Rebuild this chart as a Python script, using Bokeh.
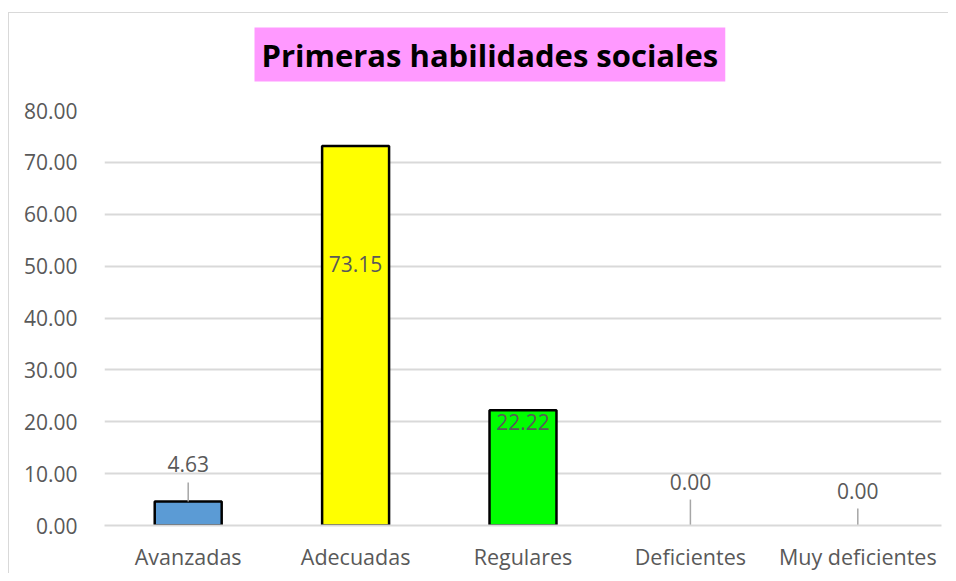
from bokeh.plotting import figure
from bokeh.layouts import column
from bokeh.models import ColumnDataSource, Range1d, FixedTicker, NumeralTickFormatter, Title
from bokeh.core.properties import value
from bokeh.embed import file_html
from bokeh.resources import INLINE

# ---- data ----
categories = ["Avanzadas", "Adecuadas", "Regulares", "Deficientes", "Muy deficientes"]
values = [4.63, 73.15, 22.22, 0.00, 0.00]
bar_colors = ["#5B9BD5", "#FFFF00", "#00FF00", None, None]
y_ticks = [0, 10, 20, 30, 40, 50, 60, 70, 80]
title_text = "Primeras habilidades sociales"

# label placement (pixel offsets of the value labels, style only)
label_offsets = [-37, 118, 12, -44, -35]
leader_px = [19, 0, 0, 26, 17]

FONT = "Open Sans"
GRAY = "#595959"
GRID = "#d9d9d9"

PX_PER_UNIT = 416 / 80.0

src = ColumnDataSource(dict(
    cat=categories,
    val=values,
    fill=bar_colors,
    line=["black" if v > 0 else None for v in values],
    lab=["%.2f" % v for v in values],
    yoff=label_offsets,
))

p = figure(
    x_range=categories, y_range=Range1d(0, 80),
    width=939, height=577,
    output_backend="svg", toolbar_location=None,
    min_border_left=95, min_border_right=7,
    min_border_top=97, min_border_bottom=47,
)
p.styles = {"margin-top": "-17px"}
p.x_range.range_padding = 0
p.outline_line_color = None
p.background_fill_color = "white"
p.border_fill_alpha = 0

p.title = Title(text=title_text, align="left", offset=150, standoff=58,
                text_font=FONT, text_font_style="bold", text_font_size="31px",
                text_color="black", background_fill_color="#FF99FF",
                padding=(7, 6))

p.vbar(x="cat", top="val", width=0.4, source=src,
       fill_color="fill", line_color="line", line_width=2.5)

# leader lines for labels placed outside the bars
lx, ly0, ly1 = [], [], []
for c, v, px in zip(categories, values, leader_px):
    if px > 0:
        lx.append(c)
        ly0.append(v)
        ly1.append(v + px / PX_PER_UNIT)
p.segment(x0=lx, y0=ly0, x1=lx, y1=ly1, line_color="#a6a6a6", line_width=1.5)

p.text(x="cat", y="val", text="lab", y_offset="yoff", source=src,
       text_align="center", text_baseline="middle",
       text_font=value(FONT), text_font_size="21px", text_color=GRAY)

# axes
p.yaxis.ticker = FixedTicker(ticks=y_ticks)
p.yaxis.formatter = NumeralTickFormatter(format="0.00")
p.yaxis.axis_line_color = None
p.yaxis.major_tick_line_color = None
p.yaxis.minor_tick_line_color = None
p.yaxis.major_label_standoff = 21
p.yaxis.major_label_text_font = FONT
p.yaxis.major_label_text_font_size = "21px"
p.yaxis.major_label_text_color = GRAY

p.xaxis.axis_line_color = GRID
p.xaxis.axis_line_width = 2
p.xaxis.major_tick_line_color = None
p.xaxis.minor_tick_line_color = None
p.xaxis.major_label_standoff = 10
p.xaxis.major_label_text_font = FONT
p.xaxis.major_label_text_font_size = "21.5px"
p.xaxis.major_label_text_color = GRAY

p.xgrid.grid_line_color = None
p.ygrid.grid_line_color = GRID
p.ygrid.grid_line_width = 2

page = column(p, styles={"position": "relative", "top": "12px", "left": "8px",
                         "border-left": "1px solid #d9d9d9",
                         "border-top": "1px solid #d9d9d9"})

open("out.html", "w").write(file_html(page, INLINE))
